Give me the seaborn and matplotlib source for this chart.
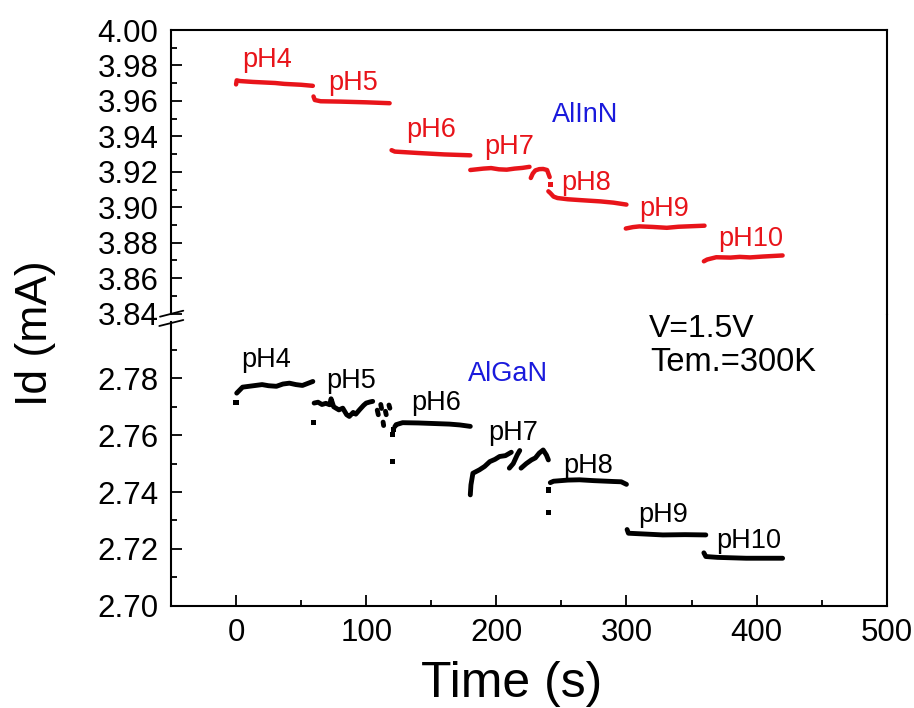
import numpy as np
import pandas as pd
import matplotlib
matplotlib.use("Agg")
import matplotlib.pyplot as plt
from matplotlib.lines import Line2D
from matplotlib.ticker import MultipleLocator, FixedLocator, FormatStrFormatter
import seaborn as sns

# ---------------- data ----------------
# AlInN (red, upper panel): time (s), drain current (mA), run id
inn_time = [0, 0.5, 3, 13, 30, 37, 50, 59,
            59.5, 60.5, 65, 80, 100, 118,
            119.5, 122, 140, 160, 180,
            180, 185, 190, 196, 202, 208, 214, 220, 225.5,
            226.5, 228, 230, 233, 236, 239, 240.5, 241,
            240, 241.5, 244, 247, 255, 265, 280, 290, 300,
            299.5, 305, 310, 320, 331, 340, 350, 360,
            359.5, 362, 369, 380, 387, 395, 405, 420]
inn_current = [3.9693, 3.9716, 3.9712, 3.9707, 3.9701, 3.9696, 3.9691, 3.9685,
               3.9625, 3.9605, 3.9598, 3.9596, 3.9592, 3.9587,
               3.9322, 3.9314, 3.9306, 3.9298, 3.9293,
               3.9210, 3.9214, 3.9218, 3.9221, 3.9214, 3.9212, 3.9218, 3.9222, 3.9228,
               3.9165, 3.9190, 3.9208, 3.9215, 3.9216, 3.9210, 3.9180, 3.9170,
               3.9090, 3.9080, 3.9060, 3.9052, 3.9045, 3.9040, 3.9033, 3.9026, 3.9015,
               3.8880, 3.8888, 3.8892, 3.8889, 3.8884, 3.8890, 3.8893, 3.8896,
               3.8695, 3.8705, 3.8718, 3.8716, 3.8720, 3.8717, 3.8722, 3.8728]
inn_run = (["4"] * 8 + ["5"] * 6 + ["6"] * 5 + ["7"] * 9 + ["7c"] * 8
           + ["8"] * 9 + ["9"] * 8 + ["10"] * 8)
inn_dot_time = [241.5]
inn_dot_current = [3.9127]

# AlGaN (black, lower panel)
gan_time = [0.5, 2, 5, 10, 15, 20, 25, 31, 36, 41, 46, 51, 55, 59,
            60, 63, 66, 69, 72, 73, 75, 79, 82, 85, 87, 90, 92, 95, 98, 100, 103, 105,
            108.5, 109.3,
            111.2, 111.8,
            113, 113.4,
            114.8, 115.4,
            117.5, 118.2,
            122, 123, 128, 140, 152, 164, 172, 180,
            180, 180.5, 182, 187, 191, 195, 199, 202.5, 207, 211.5,
            210, 213, 216, 218,
            219, 223, 227, 230, 233, 236, 238.5, 240,
            241.5, 244, 255, 264, 275, 290, 296, 300,
            300.5, 301.5, 315, 328, 345, 361,
            359.5, 361, 370, 392, 405, 420]
gan_current = [2.7748, 2.7755, 2.7769, 2.7772, 2.7775, 2.7778, 2.7774, 2.7772, 2.7780,
               2.7783, 2.7778, 2.7775, 2.7782, 2.7789,
               2.7713, 2.7716, 2.7708, 2.7712, 2.7707, 2.7728, 2.7700, 2.7689, 2.7695,
               2.7672, 2.7666, 2.7680, 2.7674, 2.7690, 2.7705, 2.7713, 2.7717, 2.7719,
               2.7688, 2.7672,
               2.7708, 2.7694,
               2.7646, 2.7634,
               2.7684, 2.7672,
               2.7706, 2.7695,
               2.7630, 2.7637, 2.7644, 2.7643, 2.7641, 2.7639, 2.7636, 2.7631,
               2.7390, 2.7425, 2.7466, 2.7478, 2.7490, 2.7507, 2.7515, 2.7525, 2.7528, 2.7540,
               2.7484, 2.7500, 2.7530, 2.7546,
               2.7484, 2.7500, 2.7513, 2.7520, 2.7537, 2.7548, 2.7530, 2.7513,
               2.7433, 2.7438, 2.7442, 2.7443, 2.7440, 2.7437, 2.7436, 2.7427,
               2.7268, 2.7255, 2.7252, 2.7249, 2.7250, 2.7249,
               2.7186, 2.7173, 2.7170, 2.7167, 2.7167, 2.7167]
gan_run = (["4"] * 14 + ["5"] * 18 + ["5b"] * 2 + ["5c"] * 2 + ["5d"] * 2 + ["5e"] * 2
           + ["5f"] * 2 + ["6"] * 8 + ["7"] * 10 + ["7b"] * 4 + ["7c"] * 8
           + ["8"] * 8 + ["9"] * 6 + ["10"] * 6)
gan_dot_time = [0, 59.5, 120.5, 120.5, 121, 240, 240]
gan_dot_current = [2.7716, 2.7644, 2.7507, 2.7601, 2.7620, 2.7327, 2.7407]

ph_labels = ["pH4", "pH5", "pH6", "pH7", "pH8", "pH9", "pH10"]
inn_label_t = [5.1, 70.5, 130.8, 191, 250, 309.7, 370.5]
inn_label_v = [3.9793, 3.9661, 3.9397, 3.9303, 3.9096, 3.8949, 3.8780]
gan_label_t = [3.8, 69.2, 134.6, 193.5, 251.2, 309, 368.7]
gan_label_v = [2.7839, 2.7766, 2.7689, 2.7583, 2.7466, 2.7296, 2.7202]

inn_df = pd.DataFrame({"t": inn_time, "I": inn_current, "run": inn_run})
gan_df = pd.DataFrame({"t": gan_time, "I": gan_current, "run": gan_run})
inn_dots = pd.DataFrame({"t": inn_dot_time, "I": inn_dot_current})
gan_dots = pd.DataFrame({"t": gan_dot_time, "I": gan_dot_current})

# ---------------- style ----------------
sns.set_style("ticks")
plt.rcParams["font.family"] = ["Liberation Sans", "DejaVu Sans"]
for k in ("text.color", "axes.labelcolor", "xtick.color", "ytick.color", "axes.edgecolor"):
    plt.rcParams[k] = "black"

W, H = 914, 708
fig = plt.figure(figsize=(W / 100, H / 100), dpi=100)
L, R = 171 / W, 886.7 / W
top_y0, top_y1 = 1 - 313.6 / H, 1 - 30 / H
bot_y0, bot_y1 = 1 - 605.7 / H, 1 - 321.5 / H
ax_top = fig.add_axes([L, top_y0, R - L, top_y1 - top_y0])
ax_bot = fig.add_axes([L, bot_y0, R - L, bot_y1 - bot_y0])

red = "#e8141a"
blue = "#1a1adc"
sns.lineplot(data=inn_df, x="t", y="I", units="run", estimator=None, sort=False,
             color=red, lw=3.2, ax=ax_top, legend=False)
sns.scatterplot(data=inn_dots, x="t", y="I", color=red, marker="s", s=12,
                edgecolor="none", ax=ax_top, legend=False)
sns.lineplot(data=gan_df, x="t", y="I", units="run", estimator=None, sort=False,
             color="black", lw=3.5, ax=ax_bot, legend=False)
sns.scatterplot(data=gan_dots, x="t", y="I", color="black", marker="s", s=14,
                edgecolor="none", ax=ax_bot, legend=False)

for ax in (ax_top, ax_bot):
    ax.set_xlim(-50, 500)
    ax.set_xlabel("")
    ax.set_ylabel("")
    ax.tick_params(which="both", direction="in", right=False, top=False,
                   width=1.3, labelsize=22.5, colors="black")
    ax.tick_params(which="major", length=8)
    ax.tick_params(which="minor", length=4.5)
    ax.tick_params(axis="y", pad=9)
    ax.tick_params(axis="x", pad=9)
    ax.xaxis.set_major_locator(MultipleLocator(100))
    ax.xaxis.set_minor_locator(MultipleLocator(50))
    for sp in ax.spines.values():
        sp.set_linewidth(1.5)
        sp.set_color("black")

ax_top.set_ylim(3.84, 4.00)
ax_top.yaxis.set_major_locator(MultipleLocator(0.02))
ax_top.yaxis.set_minor_locator(MultipleLocator(0.01))
ax_top.yaxis.set_major_formatter(FormatStrFormatter("%.2f"))
ax_top.spines["bottom"].set_visible(False)
ax_top.tick_params(axis="x", which="both", bottom=False, labelbottom=False)

ax_bot.set_ylim(2.70, 2.80)
ax_bot.yaxis.set_major_locator(FixedLocator([2.70, 2.72, 2.74, 2.76, 2.78]))
ax_bot.yaxis.set_minor_locator(FixedLocator([2.71, 2.73, 2.75, 2.77, 2.79]))
ax_bot.yaxis.set_major_formatter(FormatStrFormatter("%.2f"))
ax_bot.spines["top"].set_visible(False)

# continuous right spine across the gap
fig.add_artist(Line2D([R, R], [bot_y1, top_y0], transform=fig.transFigure,
                      color="black", lw=1.5))
# break marks on the left axis
for (x0, y0, x1, y1) in [(160, 316.7, 183.3, 310.7), (159.3, 326, 183.3, 320)]:
    fig.add_artist(Line2D([x0 / W, x1 / W], [1 - y0 / H, 1 - y1 / H],
                          transform=fig.transFigure, color="black", lw=1.3))

# pH labels
for lab, t, v in zip(ph_labels, inn_label_t, inn_label_v):
    ax_top.text(t, v, lab, color=red, fontsize=19.5, ha="left", va="baseline")
for lab, t, v in zip(ph_labels, gan_label_t, gan_label_v):
    ax_bot.text(t, v, lab, color="black", fontsize=19.5, ha="left", va="baseline")

ax_top.text(243, 3.9482, "AlInN", color=blue, fontsize=19.5, ha="left", va="baseline")
ax_bot.text(178.2, 2.7789, "AlGaN", color=blue, fontsize=19.5, ha="left", va="baseline")
ax_bot.text(317.2, 2.7946, "V=1.5V", color="black", fontsize=23, ha="left", va="baseline")
ax_bot.text(318, 2.7826, "Tem.=300K", color="black", fontsize=23.5, ha="left", va="baseline")

fig.text(35 / W, 1 - 333 / H, "Id (mA)", rotation=90, fontsize=32,
         ha="center", va="center")
fig.text(512 / W, 1 - 697 / H, "Time (s)", fontsize=36, ha="center", va="baseline")

fig.savefig("out.png", dpi=100, facecolor="white")
